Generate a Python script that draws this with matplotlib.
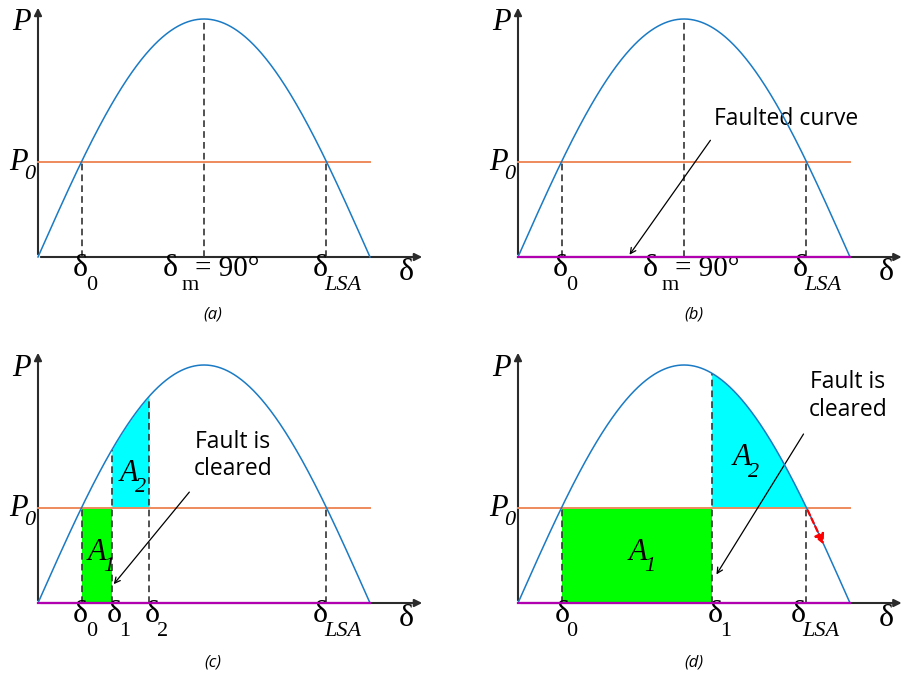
import numpy as np
import matplotlib.pyplot as plt

# Power-angle curve, angles in degrees, power as a fraction of P_max
p_max = 1.0
p_0 = 0.40
delta_0 = 23.6
delta_m = 90.0
delta_lsa = 156.4
delta_end = 180.0
delta_1_c = 40.0
delta_2_c = 60.0
delta_1_d = 105.0
captions = ['(a)', '(b)', '(c)', '(d)']

SERIF = 'Liberation Serif'
SANS = 'Open Sans'
BLUE = '#1a7ac4'
ORANGE = '#ee8a5c'
PURPLE = '#b000b0'
DASH = '#333333'
AX = '#2b2b2b'

PX_DEG = 332 / 180.0   # pixels per degree
PX_P = 238.0           # pixels per unit power

delta = np.linspace(0, delta_end, 500)
p_curve = p_max * np.sin(np.radians(delta))


def p_at(d):
    return p_max * np.sin(np.radians(d))


fig = plt.figure(figsize=(9.08, 6.74), dpi=100)
W, H = 908, 674
QW, QH = 454, 337


def make_axes(qx, qy, ox, oy):
    # quadrant at pixel (qx, qy) from top-left, origin at local pixel (ox, oy)
    ax = fig.add_axes([qx / W, 1 - (qy + QH) / H, QW / W, QH / H])
    ax.set_xlim(-ox / PX_DEG, (QW - ox) / PX_DEG)
    ax.set_ylim(-(QH - oy) / PX_P, oy / PX_P)
    ax.axis('off')
    return ax


def draw_frame(ax, x_end, y_end, faulted=False):
    ax.annotate('', xy=(x_end, 0), xytext=(0, 0),
                arrowprops=dict(arrowstyle='-|>', color=AX, lw=1.5, mutation_scale=11),
                annotation_clip=False)
    ax.annotate('', xy=(0, y_end), xytext=(0, 0),
                arrowprops=dict(arrowstyle='-|>', color=AX, lw=1.5, mutation_scale=11),
                annotation_clip=False)
    ax.plot(delta, p_curve, color=BLUE, lw=1.1, zorder=4)
    ax.plot([0, delta_end], [p_0, p_0], color=ORANGE, lw=1.4, zorder=3)
    if faulted:
        ax.plot([0, delta_end], [0, 0], color=PURPLE, lw=1.6, zorder=5)
    ax.text(-9.2, 0.985, 'P', family=SERIF, style='italic', fontsize=22,
            ha='center', va='center')
    ax.text(-10.8, 0.395, 'P', family=SERIF, style='italic', fontsize=22,
            ha='center', va='center')
    ax.text(-4.6, 0.345, '0', family=SERIF, style='italic', fontsize=16,
            ha='center', va='center')
    ax.text(199.5, -0.067, 'δ', family=SERIF, fontsize=23, ha='center', va='center')


def vdash(ax, x, top):
    ax.plot([x, x], [0, top], color=DASH, lw=1.2, ls=(0, (4, 2.5)), zorder=3)


def delta_label(ax, x, sub, dx=0.0, sub_dx=5.4, italic=False):
    ax.text(x + dx, -0.05, 'δ', family=SERIF, fontsize=23, ha='center', va='center')
    ax.text(x + sub_dx, -0.118, sub, family=SERIF, fontsize=16,
            style='italic' if italic else 'normal', ha='center', va='center')


def area_label(ax, x, y, sub):
    ax.text(x, y, 'A', family=SERIF, style='italic', fontsize=22, ha='center', va='center')
    ax.text(x + 6.4, y - 0.06, sub, family=SERIF, style='italic', fontsize=16,
            ha='center', va='center')


def note_arrow(ax, start, end):
    ax.annotate('', xy=end, xytext=start,
                arrowprops=dict(arrowstyle='->', color='black', lw=0.9, mutation_scale=10))


ax_a = make_axes(0, 0, 38, 257)
ax_b = make_axes(454, 0, 64, 257)
ax_c = make_axes(0, 337, 38, 266)
ax_d = make_axes(454, 337, 64, 266)

# (a) steady state
draw_frame(ax_a, 209.8, 1.059)
vdash(ax_a, delta_0, p_0)
vdash(ax_a, delta_m, p_max)
vdash(ax_a, delta_lsa, p_0)
delta_label(ax_a, delta_0, '0', dx=-0.5)
delta_label(ax_a, delta_m, 'm', dx=-18.4, sub_dx=-7.6)
ax_a.text(delta_m + 12.7, -0.05, '= 90°', family=SERIF, fontsize=21, ha='center', va='center')
delta_label(ax_a, delta_lsa, 'LSA', dx=-3.3, sub_dx=8.7, italic=True)

# (b) fault applied
draw_frame(ax_b, 209.5, 1.059, faulted=True)
vdash(ax_b, delta_0, p_0)
vdash(ax_b, delta_m, p_max)
vdash(ax_b, delta_lsa, p_0)
delta_label(ax_b, delta_0, '0', dx=-0.5)
delta_label(ax_b, delta_m, 'm', dx=-18.4, sub_dx=-7.6)
ax_b.text(delta_m + 12.7, -0.05, '= 90°', family=SERIF, fontsize=21, ha='center', va='center')
delta_label(ax_b, delta_lsa, 'LSA', dx=-3.3, sub_dx=8.7, italic=True)
ax_b.text(145.3, 0.58, 'Faulted curve', family=SANS, fontsize=16.5, ha='center', va='center')
note_arrow(ax_b, (105.2, 0.50), (59.6, 0.0))

# (c) stable case, equal areas before delta_lsa
draw_frame(ax_c, 209.8, 1.063, faulted=True)
ax_c.fill_between([delta_0, delta_1_c], 0, p_0, color='#00ff00', lw=0, zorder=2)
seg = np.linspace(delta_1_c, delta_2_c, 100)
ax_c.fill_between(seg, p_0, p_at(seg), color='#00ffff', lw=0, zorder=2)
vdash(ax_c, delta_0, p_0)
vdash(ax_c, delta_1_c, p_at(delta_1_c))
vdash(ax_c, delta_2_c, p_at(delta_2_c))
vdash(ax_c, delta_lsa, p_0)
delta_label(ax_c, delta_0, '0', dx=-0.5)
delta_label(ax_c, delta_1_c, '1', dx=1.6, sub_dx=7.0)
delta_label(ax_c, delta_2_c, '2', dx=2.2, sub_dx=7.6)
delta_label(ax_c, delta_lsa, 'LSA', dx=-3.3, sub_dx=8.7, italic=True)
area_label(ax_c, 32.0, 0.214, '1')
area_label(ax_c, 49.3, 0.546, '2')
ax_c.text(105.7, 0.62, 'Fault is\ncleared', family=SANS, fontsize=16.5, ha='center',
          va='center', linespacing=1.2)
note_arrow(ax_c, (83.0, 0.475), (40.1, 0.07))

# (d) critical case, A2 reaches delta_lsa
draw_frame(ax_d, 209.5, 1.063, faulted=True)
ax_d.fill_between([delta_0, delta_1_d], 0, p_0, color='#00ff00', lw=0, zorder=2)
seg = np.linspace(delta_1_d, delta_lsa, 200)
ax_d.fill_between(seg, p_0, p_at(seg), color='#00ffff', lw=0, zorder=2)
vdash(ax_d, delta_0, p_0)
vdash(ax_d, delta_1_d, p_at(delta_1_d))
vdash(ax_d, delta_lsa, p_0)
delta_label(ax_d, delta_0, '0', dx=0.5)
delta_label(ax_d, delta_1_d, '1', dx=2.2, sub_dx=7.6)
delta_label(ax_d, delta_lsa, 'LSA', dx=-4.3, sub_dx=7.6, italic=True)
area_label(ax_d, 65.1, 0.214, '1')
area_label(ax_d, 121.4, 0.61, '2')
ax_d.text(178.9, 0.87, 'Fault is\ncleared', family=SANS, fontsize=16.5, ha='center',
          va='center', linespacing=1.2)
note_arrow(ax_d, (155.6, 0.72), (106.8, 0.11))
ax_d.annotate('', xy=(166.4, p_at(166.4)), xytext=(delta_lsa, p_0),
              arrowprops=dict(arrowstyle='-|>', color='red', lw=1.6, ls=(0, (2.5, 1.5)),
                              mutation_scale=15), zorder=6)

for ax, cap, dy in zip([ax_a, ax_b, ax_c, ax_d], captions, [-0.243, -0.243, -0.248, -0.248]):
    dx = 95.0 if ax in (ax_a, ax_c) else 95.5
    ax.text(dx, dy, cap, family=SANS, style='italic', fontsize=12, ha='center', va='center')

fig.savefig('out.png', dpi=100, facecolor='white')
